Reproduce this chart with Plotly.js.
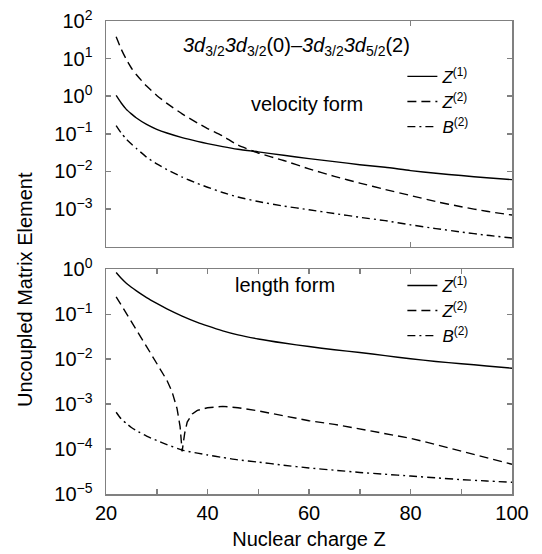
<!DOCTYPE html>
<html>
<head>
<meta charset="utf-8">
<script src="https://cdn.plot.ly/plotly-3.0.1.min.js"></script>
<style>html,body{margin:0;padding:0;background:#fff;}#chart{width:542px;height:554px;}</style>
</head>
<body>
<div id="chart"></div>
<script>
// Nuclear charge Z grid
const zGrid = [22,23,24,25,26,28,30,32,35,38,40,43,46,50,55,60,65,70,75,80,85,90,95,100];
const zLenZ2 = [22,23,24,25,26,28,30,32,33,34,34.6,35,35.5,36,37,38,40,43,46,50,55,60,65,70,75,80,85,90,95,100];

// velocity form
const velZ1 = [1.05,0.66,0.447,0.339,0.263,0.178,0.132,0.105,0.0794,0.0631,0.055,0.0457,0.0389,0.0331,0.0269,0.0219,0.0182,0.0151,0.0129,0.0105,0.0089,0.00776,0.00676,0.00603];
const velZ2 = [38.0,17.8,9.55,5.62,3.72,1.86,1.05,0.646,0.339,0.195,0.138,0.0871,0.0501,0.0309,0.0195,0.0117,0.00741,0.0049,0.00331,0.00229,0.00158,0.00115,0.00087,0.00069];
const velB2 = [0.166,0.105,0.0724,0.0537,0.0407,0.024,0.0158,0.0112,0.00708,0.00479,0.0038,0.00275,0.00209,0.00158,0.0012,0.000955,0.000759,0.000603,0.00049,0.00038,0.000302,0.000245,0.0002,0.00017];

// length form
const lenZ1 = [0.851,0.631,0.49,0.398,0.331,0.234,0.174,0.132,0.0912,0.0661,0.055,0.0427,0.0347,0.0282,0.0229,0.0191,0.0162,0.0141,0.012,0.0102,0.0089,0.00794,0.00708,0.00631];
const lenZ2 = [0.245,0.158,0.105,0.0692,0.0447,0.0191,0.00794,0.00339,0.00191,0.000794,0.000316,0.000089,0.000224,0.000398,0.000603,0.000724,0.000832,0.000891,0.000832,0.000708,0.00055,0.000427,0.000355,0.000282,0.000224,0.000174,0.000126,0.000091,0.000065,0.000046];
const lenB2 = [6.6e-4,4.68e-4,3.72e-4,3.02e-4,2.57e-4,1.95e-4,1.55e-4,1.26e-4,9.5e-5,8.1e-5,7.4e-5,6.5e-5,5.75e-5,5.13e-5,4.37e-5,3.8e-5,3.39e-5,3.02e-5,2.75e-5,2.51e-5,2.29e-5,2.09e-5,1.95e-5,1.82e-5];

// labels
const seriesNames = ['<i>Z</i><sup>(1)</sup>','<i>Z</i><sup>(2)</sup>','<i>B</i><sup>(2)</sup>'];
const topTickVals = [100,10,1,0.1,0.01,0.001,0.0001];
const topTickText = ['10<sup>2</sup>','10<sup>1</sup>','10<sup>0</sup>','10<sup>\u22121</sup>','10<sup>\u22122</sup>','10<sup>\u22123</sup>',''];
const botTickVals = [1,0.1,0.01,0.001,0.0001,0.00001];
const botTickText = ['10<sup>0</sup>','10<sup>\u22121</sup>','10<sup>\u22122</sup>','10<sup>\u22123</sup>','10<sup>\u22124</sup>','10<sup>\u22125</sup>'];
const titleText = '<i>3d</i><sub>3/2</sub><i>3d</i><sub>3/2</sub>(0)\u2013<i>3d</i><sub>3/2</sub><i>3d</i><sub>5/2</sub>(2)';

const FONT = 'Liberation Sans, Arial, Helvetica, sans-serif';
const solid = {color:'#000', width:1.4, dash:'solid', shape:'spline', smoothing:0.6};
const dashed = {color:'#000', width:1.4, dash:'9px,5px', shape:'spline', smoothing:0.6};
const dashdot = {color:'#000', width:1.4, dash:'8px,4px,2px,4px', shape:'spline', smoothing:0.6};

const traces = [
  {x:zGrid, y:velZ1, name:seriesNames[0], line:solid, mode:'lines', xaxis:'x', yaxis:'y', legend:'legend'},
  {x:zGrid, y:velZ2, name:seriesNames[1], line:dashed, mode:'lines', xaxis:'x', yaxis:'y', legend:'legend'},
  {x:zGrid, y:velB2, name:seriesNames[2], line:dashdot, mode:'lines', xaxis:'x', yaxis:'y', legend:'legend'},
  {x:zGrid, y:lenZ1, name:seriesNames[0], line:solid, mode:'lines', xaxis:'x2', yaxis:'y2', legend:'legend2'},
  {x:zLenZ2, y:lenZ2, name:seriesNames[1], line:Object.assign({}, dashed, {shape:'linear'}), mode:'lines', xaxis:'x2', yaxis:'y2', legend:'legend2'},
  {x:zGrid, y:lenB2, name:seriesNames[2], line:dashdot, mode:'lines', xaxis:'x2', yaxis:'y2', legend:'legend2'}
];

const axCommon = {showline:true, linecolor:'#808080', linewidth:1.5, mirror:'ticks', ticks:'inside',
  ticklen:5, tickcolor:'#808080', tickwidth:1.5, showgrid:false, zeroline:false,
  tickfont:{family:FONT, size:20, color:'#000'}};

const legendCommon = {bgcolor:'rgba(0,0,0,0)', borderwidth:0, xanchor:'left', yanchor:'top',
  font:{family:FONT, size:17, color:'#000'}, tracegroupgap:0, itemwidth:30};

const layout = {
  width:542, height:554,
  margin:{l:106, r:30, t:21, b:60},
  paper_bgcolor:'#fff', plot_bgcolor:'#fff',
  font:{family:FONT, color:'#000'},
  showlegend:true,
  xaxis: Object.assign({}, axCommon, {domain:[0,1], range:[20,100], anchor:'y', tickvals:[20,80,100], showticklabels:false}),
  yaxis: Object.assign({}, axCommon, {domain:[0.523,1], type:'log', range:[-4,2], anchor:'x',
    tickvals:topTickVals, ticktext:topTickText, ticklabelstandoff:8}),
  xaxis2: Object.assign({}, axCommon, {domain:[0,1], range:[20,100], anchor:'y2', dtick:20, tick0:20,
    minor:{dtick:10, ticks:'inside', ticklen:5, tickcolor:'#808080', tickwidth:1.5},
    title:{text:'Nuclear charge Z', font:{family:FONT, size:20, color:'#000'}, standoff:9}}),
  yaxis2: Object.assign({}, axCommon, {domain:[0,0.475], type:'log', range:[-5,0], anchor:'x2',
    tickvals:botTickVals, ticktext:botTickText, ticklabelstandoff:8}),
  legend: Object.assign({}, legendCommon, {x:0.73, y:0.92}),
  legend2: Object.assign({}, legendCommon, {x:0.73, y:0.478}),
  annotations:[
    {xref:'paper', yref:'paper', x:0.47, y:(494-47)/473, text:titleText, showarrow:false,
      font:{family:FONT, size:20, color:'#000'}, xanchor:'center', yanchor:'middle'},
    {xref:'paper', yref:'paper', x:(307-106)/406, y:(494-104)/473, text:'velocity form', showarrow:false,
      font:{family:FONT, size:20, color:'#000'}, xanchor:'center', yanchor:'middle'},
    {xref:'paper', yref:'paper', x:(285-106)/406, y:(494-285)/473, text:'length form', showarrow:false,
      font:{family:FONT, size:20, color:'#000'}, xanchor:'center', yanchor:'middle'},
    {xref:'paper', yref:'paper', x:(25-106)/406, y:(494-290)/473, text:'Uncoupled Matrix Element', showarrow:false,
      textangle:-90, font:{family:FONT, size:20, color:'#000'}, xanchor:'center', yanchor:'middle'}
  ]
};

Plotly.newPlot('chart', traces, layout, {staticPlot:true, displayModeBar:false});
</script>
</body>
</html>
